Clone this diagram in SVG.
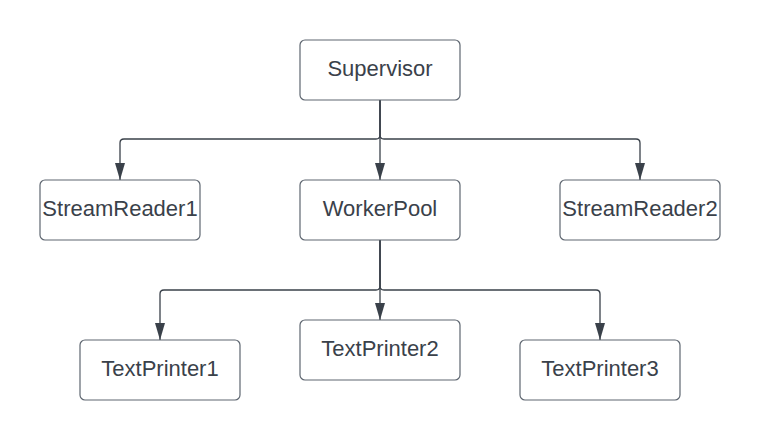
<svg xmlns="http://www.w3.org/2000/svg" width="760" height="440" viewBox="0 0 760 440">
<style>
.node rect{fill:#ffffff;stroke:#5e6670;stroke-width:1.2}
.node text{font-family:"Liberation Sans",Arial,sans-serif;font-size:22px;fill:#3a414a;text-anchor:middle}
.edge{fill:none;stroke:#3a414a;stroke-width:1.3}
</style>
<defs>
<marker id="arr" markerUnits="userSpaceOnUse" viewBox="0 0 17 10" markerWidth="17" markerHeight="10" refX="17" refY="5" orient="auto">
<path d="M0,0 L17,5 L0,10 z" fill="#3a414a"/>
</marker>
</defs>
<rect width="760" height="440" fill="#ffffff"/>
<g id="connectors">
<path class="edge" d="M380 100 V135 Q380 139 376 139 H124 Q120 139 120 143 V180" marker-end="url(#arr)"/>
<path class="edge" d="M380 100 V180" marker-end="url(#arr)"/>
<path class="edge" d="M380 100 V135 Q380 139 384 139 H636 Q640 139 640 143 V180" marker-end="url(#arr)"/>
<path class="edge" d="M380 240 V286 Q380 290 376 290 H164 Q160 290 160 294 V340" marker-end="url(#arr)"/>
<path class="edge" d="M380 240 V320" marker-end="url(#arr)"/>
<path class="edge" d="M380 240 V286 Q380 290 384 290 H596 Q600 290 600 294 V340" marker-end="url(#arr)"/>
</g>
<g id="supervisor" class="node"><rect x="300" y="40" width="160" height="60" rx="5"/><text x="380" y="76">Supervisor</text></g>
<g id="streamreader1" class="node"><rect x="40" y="180" width="160" height="60" rx="5"/><text x="120" y="216">StreamReader1</text></g>
<g id="workerpool" class="node"><rect x="300" y="180" width="160" height="60" rx="5"/><text x="380" y="216">WorkerPool</text></g>
<g id="streamreader2" class="node"><rect x="560" y="180" width="160" height="60" rx="5"/><text x="640" y="216">StreamReader2</text></g>
<g id="textprinter1" class="node"><rect x="80" y="340" width="160" height="60" rx="5"/><text x="160" y="376">TextPrinter1</text></g>
<g id="textprinter2" class="node"><rect x="300" y="320" width="160" height="60" rx="5"/><text x="380" y="356">TextPrinter2</text></g>
<g id="textprinter3" class="node"><rect x="520" y="340" width="160" height="60" rx="5"/><text x="600" y="376">TextPrinter3</text></g>
</svg>
